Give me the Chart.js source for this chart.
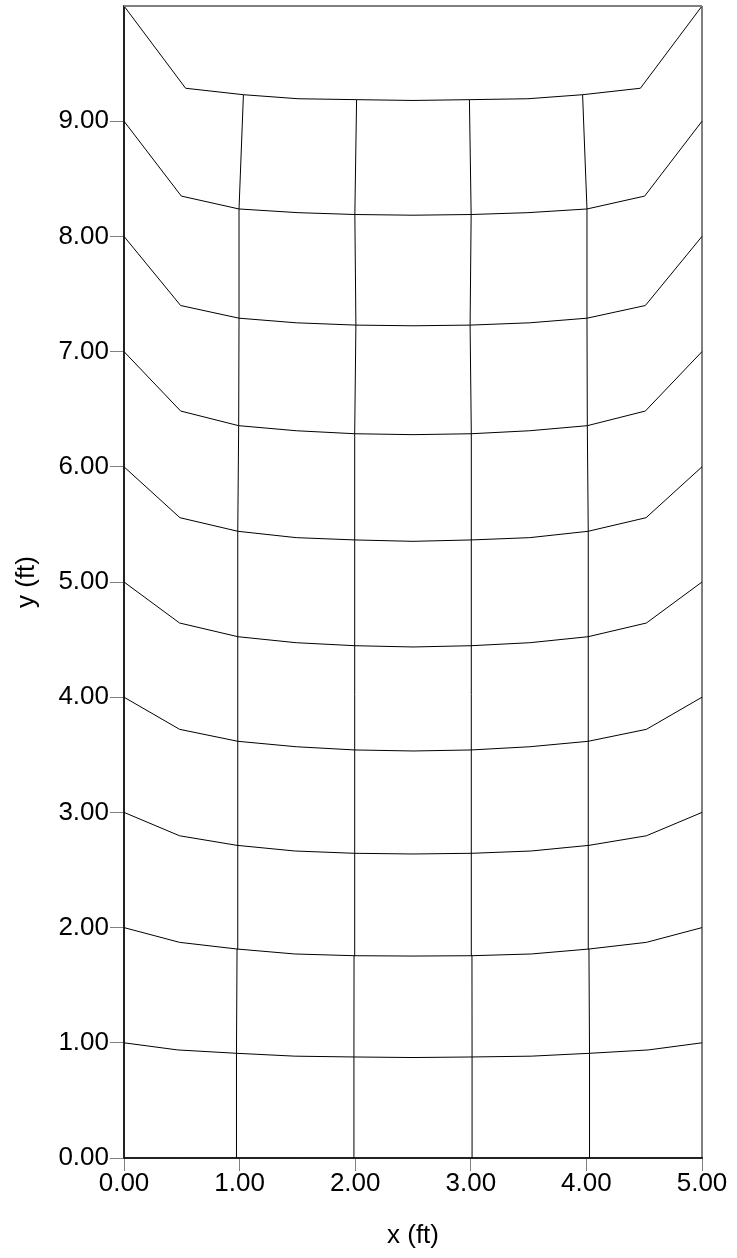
<!DOCTYPE html>
<html>
<head>
<meta charset="utf-8">
<script src="https://cdn.jsdelivr.net/npm/chart.js@4/dist/chart.umd.min.js"></script>
<style>
  html, body { margin: 0; padding: 0; background: #fff; }
  #wrap { width: 737px; height: 1258px; }
</style>
</head>
<body>
<div id="wrap"><canvas id="grafico"></canvas></div>
<script>
// nós da malha deformada: uma linha por nível (y nominal 0..10),
// colunas em x nominal 0, 0.5, 1, ... 5
const meshX = [
  [0, 0.50, 0.973, 1.50, 1.985, 2.5, 3.015, 3.50, 4.027, 4.50, 5],
  [0, 0.465, 0.973, 1.477, 1.989, 2.5, 3.011, 3.523, 4.027, 4.535, 5],
  [0, 0.481, 0.978, 1.477, 1.990, 2.5, 3.010, 3.523, 4.022, 4.519, 5],
  [0, 0.481, 0.978, 1.477, 1.990, 2.5, 3.010, 3.523, 4.022, 4.519, 5],
  [0, 0.481, 0.986, 1.490, 1.997, 2.5, 3.003, 3.510, 4.014, 4.519, 5],
  [0, 0.481, 0.986, 1.490, 1.997, 2.5, 3.003, 3.510, 4.014, 4.519, 5],
  [0, 0.484, 0.986, 1.490, 1.997, 2.5, 3.003, 3.510, 4.014, 4.516, 5],
  [0, 0.490, 0.992, 1.490, 1.997, 2.5, 3.003, 3.510, 4.008, 4.510, 5],
  [0, 0.490, 0.995, 1.490, 2.006, 2.5, 2.994, 3.510, 4.005, 4.510, 5],
  [0, 0.496, 0.995, 1.506, 1.997, 2.5, 3.003, 3.494, 4.005, 4.504, 5],
  [0, 0.533, 1.033, 1.506, 2.012, 2.5, 2.988, 3.494, 3.967, 4.467, 5]
];
const meshY = [
  [0, 0, 0, 0, 0, 0, 0, 0, 0, 0, 0],
  [1, 0.938, 0.909, 0.884, 0.877, 0.872, 0.877, 0.884, 0.909, 0.938, 1],
  [2, 1.872, 1.814, 1.771, 1.756, 1.753, 1.756, 1.771, 1.814, 1.872, 2],
  [3, 2.797, 2.714, 2.665, 2.645, 2.639, 2.645, 2.665, 2.714, 2.797, 3],
  [4, 3.721, 3.617, 3.570, 3.542, 3.533, 3.542, 3.570, 3.617, 3.721, 4],
  [5, 4.644, 4.525, 4.473, 4.447, 4.436, 4.447, 4.473, 4.525, 4.644, 5],
  [6, 5.558, 5.440, 5.385, 5.365, 5.353, 5.365, 5.385, 5.440, 5.558, 6],
  [7, 6.484, 6.357, 6.313, 6.287, 6.279, 6.287, 6.313, 6.357, 6.484, 7],
  [8, 7.400, 7.290, 7.250, 7.230, 7.224, 7.230, 7.250, 7.290, 7.400, 8],
  [9, 8.350, 8.238, 8.206, 8.190, 8.184, 8.190, 8.206, 8.238, 8.350, 9],
  [10, 9.286, 9.230, 9.195, 9.187, 9.180, 9.187, 9.195, 9.230, 9.286, 10]
];
// colunas que formam as linhas verticais da malha
const verticalCols = [0, 2, 4, 6, 8, 10];
const xTicks = [0, 1, 2, 3, 4, 5];
const yTicks = [0, 1, 2, 3, 4, 5, 6, 7, 8, 9];

const fonte = { family: "'Liberation Sans', Arial, sans-serif", size: 26 };

function linha(pontos) {
  return {
    data: pontos,
    showLine: true,
    borderColor: '#000',
    borderWidth: 1,
    pointRadius: 0,
    tension: 0,
    fill: false,
    clip: 3
  };
}

const datasets = [];
meshX.forEach(function (xs, k) {
  datasets.push(linha(xs.map((x, i) => ({ x: x, y: meshY[k][i] }))));
});
verticalCols.forEach(function (c) {
  datasets.push(linha(meshX.map((xs, k) => ({ x: xs[c], y: meshY[k][c] }))));
});

// moldura superior cinza
const molduraTopo = {
  id: 'molduraTopo',
  afterDatasetsDraw(chart) {
    const a = chart.chartArea;
    const ctx = chart.ctx;
    ctx.save();
    ctx.strokeStyle = '#808080';
    ctx.lineWidth = 2;
    ctx.beginPath();
    ctx.moveTo(a.left, a.top);
    ctx.lineTo(a.right, a.top);
    ctx.stroke();
    ctx.restore();
  }
};

new Chart(document.getElementById('grafico'), {
  type: 'scatter',
  data: { datasets: datasets },
  options: {
    responsive: true,
    maintainAspectRatio: false,
    animation: false,
    layout: { padding: { left: 0, right: 35, top: 6, bottom: 0 } },
    plugins: { legend: { display: false }, tooltip: { enabled: false } },
    scales: {
      x: {
        type: 'linear',
        min: 0,
        max: 5,
        afterBuildTicks: axis => { axis.ticks = xTicks.map(v => ({ value: v })); },
        afterFit: scale => { scale.height = 100; },
        ticks: { color: '#000', font: fonte, padding: -3, maxRotation: 0,
                 callback: v => v.toFixed(2) },
        grid: { drawOnChartArea: false, tickLength: 13, color: '#808080' },
        border: { color: '#444', width: 2 },
        title: { display: true, text: 'x (ft)', color: '#000', font: fonte,
                 padding: { top: 21, bottom: 6.6 } }
      },
      y: {
        type: 'linear',
        min: 0,
        max: 10,
        afterBuildTicks: axis => { axis.ticks = yTicks.map(v => ({ value: v })); },
        afterFit: scale => { scale.width = 124; scale.paddingTop = 0; scale.paddingBottom = 0; },
        ticks: { color: '#000', font: fonte, padding: 1,
                 callback: v => v.toFixed(2) },
        grid: { drawOnChartArea: false, tickLength: 14, color: '#808080' },
        border: { color: '#444', width: 2 },
        title: { display: true, text: 'y (ft)', color: '#000', font: fonte,
                 padding: { top: 11, bottom: 4 } }
      }
    }
  },
  plugins: [molduraTopo]
});
</script>
</body>
</html>
